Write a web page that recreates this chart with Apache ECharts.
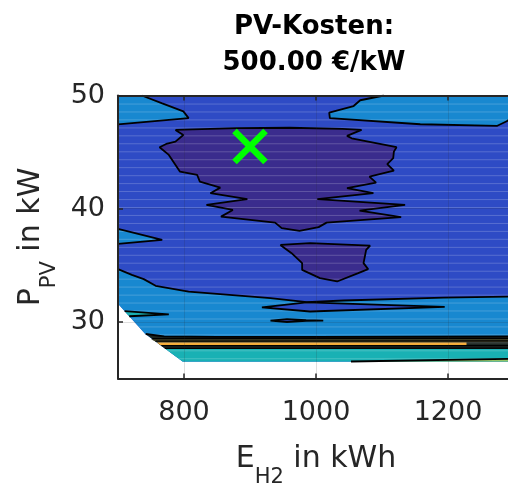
<!DOCTYPE html>
<html><head><meta charset="utf-8">
<script src="https://cdn.jsdelivr.net/npm/echarts@6/dist/echarts.min.js"></script>
<style>html,body{margin:0;padding:0;background:#fff}#c{width:508px;height:485px}</style>
</head><body><div id="c"></div>
<script>
// ---- axis ranges ----
const xRange = [700, 1300];
const yRange = [25, 50];
// ---- optimum marker ----
const optimum = [900, 45.5];
// ---- faint data-grid rows (P values) ----
const gridRowsP = [26.79,27.49,28.19,28.9,29.6,30.3,31.01,31.71,32.41,33.12,33.82,34.52,35.23,35.93,36.63,37.34,38.04,38.74,39.45,40.15,40.85,41.56,42.26,42.96,43.67,44.37,45.07,45.78,46.48,47.18,47.89,48.59,49.29];
// ---- filled contour regions [E, P] ----
const domainRegion = [[700,50],[1300,50],[1300,26.5],[798,26.5],[741,28.95],[700,31.6]];
const topLeftLight = [[700,50],[736,50],[767,49.3],[799,48.6],[807,48.0],[700,47.45]];
const topRightLight = [[1103,50],[1067,49.58],[1057,49.07],[1020,48.48],[1021,48.01],[1158,47.46],[1274,47.31],[1289,47.72],[1300,48.2],[1300,50]];
const leftSpikeLight = [[700,38.22],[767,37.25],[700,36.9]];
const mainPurple = [[787,46.96],[880,47.12],[960,47.15],[1040,47.05],[1069,46.96],[1047,46.43],[1054,46.22],[1122,45.43],[1118,45.04],[1117,44.46],[1108,43.93],[1118,43.36],[1081,42.83],[1091,42.3],[1047,41.81],[1087,41.37],[1002,40.84],[1135,40.34],[1066,39.83],[1129,39.25],[1016,38.77],[1004,38.37],[975,38.05],[948,38.28],[938,38.77],[856,39.3],[874,39.89],[834,40.34],[896,40.84],[840,41.37],[855,41.86],[824,42.39],[820,42.98],[794,43.27],[792,43.43],[777,44.75],[763,45.43],[773,45.72],[787,45.92],[799,46.51],[787,46.96]];
const smallPurple = [[946,36.8],[991,36.96],[1082,36.74],[1076,36.36],[1074,35.77],[1072,35.19],[1079,34.66],[1064,34.31],[1032,33.57],[1006,33.87],[979,34.6],[979,35.19],[963,36.07],[946,36.8]];
const lowLightEdge = [[700,34.66],[721,34.16],[739,33.78],[757,33.19],[807,32.68],[931,32.1],[986,31.75],[1042,31.89],[1193,32.15],[1291,32.24],[1300,32.25]];
const lowLightRegion = lowLightEdge.concat([[1300,26.5],[798,26.5],[741,28.95],[700,31.6]]);
const blueLens = [[918,31.28],[986,31.72],[1195,31.32],[991,30.92],[918,31.28]];
const smallBlueLens = [[931,30.12],[956,30.24],[985,30.15],[1011,30.12],[985,30.1],[956,29.99],[931,30.12]];
const tealSpike = [[710,30.95],[777,30.66],[717,30.5]];
const bandTopEdge = [[742,28.93],[770,28.72],[850,28.68],[1000,28.68],[1300,28.72]];
const darkBand = bandTopEdge.concat([[1300,27.6],[772,27.6]]);
const oliveBand = [[750,28.46],[1300,28.46],[1300,28.22],[758,28.22]];
const orangeBand = [[759,28.17],[1228,28.17],[1228,27.97],[764,27.97]];
const tealRegion = [[772,27.6],[1300,27.6],[1300,26.5],[798,26.5]];
const greenWedge = [[1053,26.5],[1300,26.75],[1300,26.5]];
const greenEdge = [[1053,26.5],[1300,26.75]];
const bandLines = [
  [[752,28.52],[1300,28.55]],
  [[757,28.3],[1300,28.33]],
  [[766,27.9],[1300,27.9]],
  [[771,27.66],[1300,27.68]]
];

const C = {
  purple: '#3a2c8d', blue: '#2e4bc5', light: '#1888d0', teal: '#19b1b4',
  orange: '#f4aa34', olive: '#4d4a2a', dark: '#1c2520', green: '#94c566'
};
const FONT = 'DejaVu Sans';
const INK = '#262626';

function fillSeries(pts, color, z) {
  return {
    type: 'custom', coordinateSystem: 'cartesian2d', z: z, silent: true, clip: true,
    data: [pts[0]],
    renderItem: function (params, api) {
      return { type: 'polygon', shape: { points: pts.map(function (p) { return api.coord(p); }) },
               style: { fill: color, stroke: null } };
    }
  };
}
function lineSeries(pts, z, color, width) {
  return {
    type: 'line', data: pts, symbol: 'none', showSymbol: false, z: z || 5, silent: true, clip: true,
    lineStyle: { color: color || '#000', width: width || 1.8 }, animation: false
  };
}

const series = [];
series.push(fillSeries(domainRegion, C.blue, 1));
series.push(fillSeries(lowLightRegion, C.light, 1));
series.push(fillSeries(tealRegion, C.teal, 1));
series.push(fillSeries(darkBand, C.dark, 1));
series.push(fillSeries(oliveBand, C.olive, 1));
series.push(fillSeries(orangeBand, C.orange, 1));
series.push(fillSeries(greenWedge, C.green, 1));
series.push(fillSeries(blueLens, C.blue, 1));
series.push(fillSeries(smallBlueLens, C.blue, 1));
series.push(fillSeries(tealSpike, C.teal, 1));
series.push(fillSeries(topLeftLight, C.light, 1));
series.push(fillSeries(topRightLight, C.light, 1));
series.push(fillSeries(leftSpikeLight, C.light, 1));
series.push(fillSeries(mainPurple, C.purple, 1));
series.push(fillSeries(smallPurple, C.purple, 1));
// faint data-grid rows
series.push({
  type: 'custom', coordinateSystem: 'cartesian2d', z: 3, silent: true, clip: true,
  data: gridRowsP.map(function (p) { return [xRange[0], p]; }),
  renderItem: function (params, api) {
    const a = api.coord([xRange[0], api.value(1)]);
    const b = api.coord([xRange[1], api.value(1)]);
    return { type: 'line', shape: { x1: a[0], y1: a[1] + 0.5, x2: b[0], y2: b[1] + 0.5 },
             style: { stroke: 'rgba(255,255,255,0.2)', lineWidth: 1 } };
  }
});
// contour lines
[topLeftLight.slice(1), topRightLight.slice(0, 9), leftSpikeLight, mainPurple, smallPurple,
 lowLightEdge, blueLens, smallBlueLens, tealSpike, bandTopEdge, greenEdge].forEach(function (l) {
  series.push(lineSeries(l, 5));
});
bandLines.forEach(function (l) { series.push(lineSeries(l, 5, '#000', 1.2)); });
// optimum marker (green X)
series.push({
  type: 'custom', coordinateSystem: 'cartesian2d', z: 12, silent: true,
  data: [optimum],
  renderItem: function (params, api) {
    const c = api.coord([api.value(0), api.value(1)]);
    const h = 15.5;
    return { type: 'group', children: [
      { type: 'line', shape: { x1: c[0]-h, y1: c[1]-h, x2: c[0]+h, y2: c[1]+h }, style: { stroke: '#00ff00', lineWidth: 6.5, lineCap: 'butt' } },
      { type: 'line', shape: { x1: c[0]-h, y1: c[1]+h, x2: c[0]+h, y2: c[1]-h }, style: { stroke: '#00ff00', lineWidth: 6.5, lineCap: 'butt' } }
    ] };
  }
});

const richName = {
  m: { fontFamily: FONT, fontSize: 30, lineHeight: 30, color: INK, verticalAlign: 'top' },
  s: { fontFamily: FONT, fontSize: 21, lineHeight: 21, color: INK, verticalAlign: 'top', padding: [23, 0, 0, 0] }
};
const gridLineStyle = { color: 'rgba(38,38,38,0.15)', width: 1 };
const plainNum = function (v) { return String(v); };

const option = {
  animation: false,
  backgroundColor: '#fff',
  grid: { left: 118, top: 95.5, width: 396, height: 283, containLabel: false, outerBoundsMode: 'none' },
  graphic: [{
    type: 'text', x: 314, y: 9, z: 20,
    style: { text: 'PV-Kosten:\n500.00 €/kW', align: 'center', verticalAlign: 'top',
             fontFamily: FONT, fontWeight: 'bold', fontSize: 26, lineHeight: 36, fill: '#000' }
  }],
  xAxis: [{
    type: 'value', min: xRange[0], max: xRange[1], splitNumber: 3, position: 'bottom', z: 10,
    name: '{m|E}{s|H2}{m| in kWh}', nameLocation: 'middle', nameGap: 66,
    nameTextStyle: { rich: richName },
    axisLine: { show: true, onZero: false, lineStyle: { color: INK, width: 2 } },
    axisTick: { show: true, inside: true, length: 5, lineStyle: { color: INK, width: 1.5 } },
    axisLabel: { show: true, showMinLabel: false, showMaxLabel: false, margin: 21, color: INK, fontFamily: FONT, fontSize: 27, formatter: plainNum },
    splitLine: { show: true, lineStyle: gridLineStyle }
  }, {
    type: 'value', min: xRange[0], max: xRange[1], splitNumber: 3, position: 'top', z: 10,
    axisLine: { show: true, onZero: false, lineStyle: { color: INK, width: 2 } },
    axisTick: { show: true, inside: true, length: 5, lineStyle: { color: INK, width: 1.5 } },
    axisLabel: { show: false }, splitLine: { show: false }
  }],
  yAxis: [{
    type: 'value', min: yRange[0], max: yRange[1], splitNumber: 2, position: 'left', z: 10,
    name: '{m|P}{s|PV}{m| in kW}', nameLocation: 'middle', nameGap: 57,
    nameTextStyle: { rich: richName },
    axisLine: { show: true, onZero: false, lineStyle: { color: INK, width: 2 } },
    axisTick: { show: true, inside: true, length: 5, lineStyle: { color: INK, width: 1.5 } },
    axisLabel: { show: true, showMinLabel: false, margin: 13, color: INK, fontFamily: FONT, fontSize: 27, formatter: plainNum },
    splitLine: { show: true, lineStyle: gridLineStyle }
  }],
  series: series
};
const chart = echarts.init(document.getElementById('c'));
chart.setOption(option);
</script>
</body></html>
